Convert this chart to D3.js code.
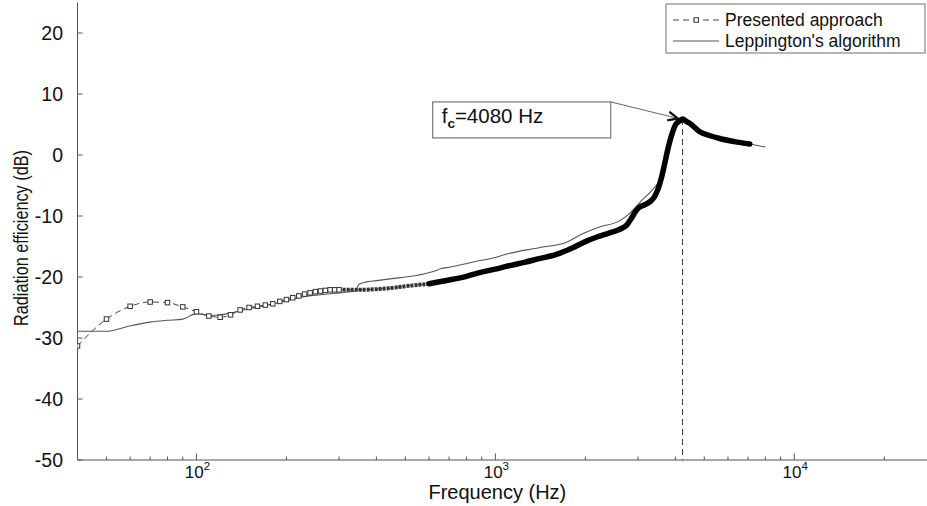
<!DOCTYPE html>
<html><head><meta charset="utf-8">
<script src="https://cdn.jsdelivr.net/npm/d3@7"></script>
<style>
html,body{margin:0;padding:0;background:#fff;}
svg{display:block;font-family:"Liberation Sans",Arial,Helvetica,sans-serif;}
</style></head><body>
<svg id="chart" width="927" height="506"></svg>
<script>
// ---------------- data ----------------
const presentedFreq = [40,50,60,70,80,90,100,110,120,130,140,150,160,170,180,190,200,210,220,230,240,250,260,270,280,290,300,
  350,400,450,500,550,600,700,800,900,1000,1100,1250,1400,1600,1800,2000,2200,2400,2600,2750,2850,2950,3050,3150,3300,3400,3500,3600,3690,3770,3890,4010,4140,4230,4350,4470,4600,4830,5200,5630,6300,7100];
const presentedDb = [-31.3,-26.9,-24.8,-24.1,-24.2,-24.9,-25.7,-26.4,-26.6,-26.2,-25.4,-25.0,-24.8,-24.6,-24.4,-24.0,-23.7,-23.4,-23.1,-22.8,-22.6,-22.4,-22.3,-22.2,-22.1,-22.1,-22.1,
  -22.1,-22.0,-21.8,-21.5,-21.3,-21.1,-20.5,-19.9,-19.2,-18.7,-18.2,-17.6,-17.0,-16.3,-15.3,-14.2,-13.4,-12.8,-12.2,-11.5,-10.4,-9.2,-8.5,-8.2,-7.6,-6.9,-5.6,-3.6,-1.3,0.8,3.3,5.0,5.6,5.9,5.5,5.2,4.7,3.8,3.2,2.7,2.2,1.8];
const leppingtonFreq = [40,50,60,70,80,90,100,110,120,130,150,170,200,230,260,300,340,350,370,400,480,550,620,660,700,850,1000,1100,1400,1730,1960,2230,2600,2810,3040,3380,3500,3600,3690,3770,3890,4010,4140,4230,4350,4470,4830,5630,7100,8000];
const leppingtonDb = [-28.9,-28.9,-28.0,-27.4,-27.1,-26.9,-26.0,-26.3,-26.2,-25.9,-25.2,-24.7,-23.9,-23.2,-22.9,-22.6,-22.3,-21.2,-20.8,-20.6,-20.1,-19.7,-19.1,-18.6,-18.4,-17.5,-16.8,-16.2,-15.2,-14.3,-12.9,-11.8,-10.8,-9.6,-7.8,-5.5,-4.6,-3.2,-1.1,0.9,3.3,5.0,5.6,5.9,5.5,5.2,3.8,2.7,1.8,1.3];
const yTickValues = [-50,-40,-30,-20,-10,0,10,20];
const xMajorTicks = [100,1000,10000];
const xMajorExp = ["2","3","4"];
const xMinorTicks = [50,60,70,80,90,200,300,400,500,600,700,800,900,2000,3000,4000,5000,6000,7000,8000,9000,20000];
const seriesNames = ["Presented approach","Leppington's algorithm"];
const fcLineFreq = 4230, fcLineDb = 5.9;      // dashed drop line at the peak
const fcArrowFreq = 4080, fcArrowDb = 6.0;     // arrow tip
const fcBox = {f0: 617, f1: 2432, db0: 8.7, db1: 2.8};
const fcLabel = "=4080 Hz";
const xLabel = "Frequency (Hz)";
const yLabel = "Radiation efficiency (dB)";
const markerMaxFreq = 300;

// ---------------- layout ----------------
const svg = d3.select("#chart");
const L = 77.5, R = 927, T = 2.5, B = 460;
const x = d3.scaleLog().domain([40, 27800]).range([L, R]);
const y = d3.scaleLinear().domain([-50, 25]).range([B, T]);

const defs = svg.append("defs");
defs.append("clipPath").attr("id","plotclip")
  .append("rect").attr("x",L).attr("y",T).attr("width",R-L).attr("height",B-T);
defs.append("marker").attr("id","arrowhead")
  .attr("viewBox","0 -5 10 10").attr("refX",9).attr("refY",0)
  .attr("markerWidth",11).attr("markerHeight",11).attr("markerUnits","userSpaceOnUse")
  .attr("orient","auto")
  .append("path").attr("d","M0,-4L9,0L0,4").attr("fill","none").attr("stroke","#111").attr("stroke-width",2);

// axes
const ax = svg.append("g");
ax.append("line").attr("x1",L).attr("x2",L).attr("y1",T).attr("y2",B).attr("stroke","#555").attr("stroke-width",1);
ax.append("line").attr("x1",L).attr("x2",R).attr("y1",B).attr("y2",B).attr("stroke","#555").attr("stroke-width",1);
yTickValues.forEach(v=>{
  ax.append("line").attr("x1",L).attr("x2",L+5).attr("y1",y(v)).attr("y2",y(v)).attr("stroke","#555");
  ax.append("text").attr("x",63).attr("y",y(v)).attr("dy","0.36em").attr("text-anchor","end")
    .attr("font-size",19.5).attr("fill","#111").text(v);
});
xMinorTicks.forEach(v=>{
  ax.append("line").attr("x1",x(v)).attr("x2",x(v)).attr("y1",B).attr("y2",B-3.5).attr("stroke","#555");
});
xMajorTicks.forEach((v,i)=>{
  ax.append("line").attr("x1",x(v)).attr("x2",x(v)).attr("y1",B).attr("y2",B-6.5).attr("stroke","#555");
  const t = ax.append("text").attr("x",x(v)+1).attr("y",B+18).attr("text-anchor","middle")
    .attr("font-size",17).attr("fill","#111");
  t.append("tspan").text("10");
  t.append("tspan").attr("dy",-8).attr("font-size",11.5).text(xMajorExp[i]);
});
ax.append("text").attr("x",x(1000)+2).attr("y",499).attr("text-anchor","middle")
  .attr("font-size",20).attr("fill","#111").text(xLabel);
ax.append("text").attr("transform","translate(28,238) rotate(-90)").attr("text-anchor","middle")
  .attr("font-size",20).attr("fill","#111").attr("textLength",176).attr("lengthAdjust","spacingAndGlyphs").text(yLabel);

// data
const plot = svg.append("g").attr("clip-path","url(#plotclip)");
const pres = presentedFreq.map((f,i)=>({f, v: presentedDb[i]}));
const lep = leppingtonFreq.map((f,i)=>({f, v: leppingtonDb[i]}));
const line = d3.line().x(d=>x(d.f)).y(d=>y(d.v)).curve(d3.curveMonotoneX);

// drop line at the critical frequency
plot.append("line").attr("x1",x(fcLineFreq)).attr("x2",x(fcLineFreq)).attr("y1",y(fcLineDb)).attr("y2",B)
  .attr("stroke","#333").attr("stroke-width",1).attr("stroke-dasharray","6,4");

// Leppington thin line
plot.append("path").attr("d",line(lep)).attr("fill","none").attr("stroke","#555").attr("stroke-width",1.1);

// presented: dashed line + markers / dense marker band
plot.append("path").attr("d",line(pres)).attr("fill","none").attr("stroke","#444").attr("stroke-width",1)
  .attr("stroke-dasharray","6,4");
const band1 = pres.filter(d=>d.f>=markerMaxFreq-10 && d.f<=700);
const band2 = pres.filter(d=>d.f>=600);
plot.append("path").attr("d",line(band1)).attr("fill","none").attr("stroke","#333").attr("stroke-width",4)
  .attr("stroke-dasharray","3,1");
plot.append("path").attr("d",line(band2)).attr("fill","none").attr("stroke","#000").attr("stroke-width",5.5)
  .attr("stroke-linecap","round");
plot.selectAll("rect.mk").data(pres.filter(d=>d.f<=markerMaxFreq)).join("rect").attr("class","mk")
  .attr("x",d=>x(d.f)-2.25).attr("y",d=>y(d.v)-2.25).attr("width",4.5).attr("height",4.5)
  .attr("fill","#fff").attr("stroke","#333").attr("stroke-width",1);

// annotation
const ann = svg.append("g");
ann.append("rect").attr("x",x(fcBox.f0)).attr("y",y(fcBox.db0))
  .attr("width",x(fcBox.f1)-x(fcBox.f0)).attr("height",y(fcBox.db1)-y(fcBox.db0))
  .attr("fill","#fff").attr("stroke","#777").attr("stroke-width",1.2);
ann.append("line").attr("x1",x(fcBox.f1)).attr("y1",y(fcBox.db0)).attr("x2",x(fcArrowFreq)).attr("y2",y(fcArrowDb))
  .attr("stroke","#666").attr("stroke-width",1).attr("marker-end","url(#arrowhead)");
const ft = ann.append("text").attr("x",x(fcBox.f0)+9).attr("y",y(fcBox.db0)+21).attr("font-size",20.5).attr("fill","#111");
ft.append("tspan").text("f");
ft.append("tspan").attr("dy",5).attr("font-size",13.5).attr("font-weight","bold").text("c");
ft.append("tspan").attr("dy",-5).text(fcLabel);

// legend
const lg = svg.append("g");
lg.append("rect").attr("x",666).attr("y",4).attr("width",259).attr("height",49)
  .attr("fill","#fff").attr("stroke","#888").attr("stroke-width",1.2);
lg.append("line").attr("x1",673).attr("x2",719).attr("y1",20).attr("y2",20).attr("stroke","#444").attr("stroke-dasharray","6,4");
lg.append("rect").attr("x",694).attr("y",17.75).attr("width",4.5).attr("height",4.5).attr("fill","#fff").attr("stroke","#333");
lg.append("line").attr("x1",673).attr("x2",719).attr("y1",41).attr("y2",41).attr("stroke","#555").attr("stroke-width",1.1);
lg.append("text").attr("x",725).attr("y",26).attr("font-size",17.5).attr("fill","#111").text(seriesNames[0]);
lg.append("text").attr("x",725).attr("y",47).attr("font-size",17.5).attr("fill","#111").text(seriesNames[1]);
</script>
</body></html>
